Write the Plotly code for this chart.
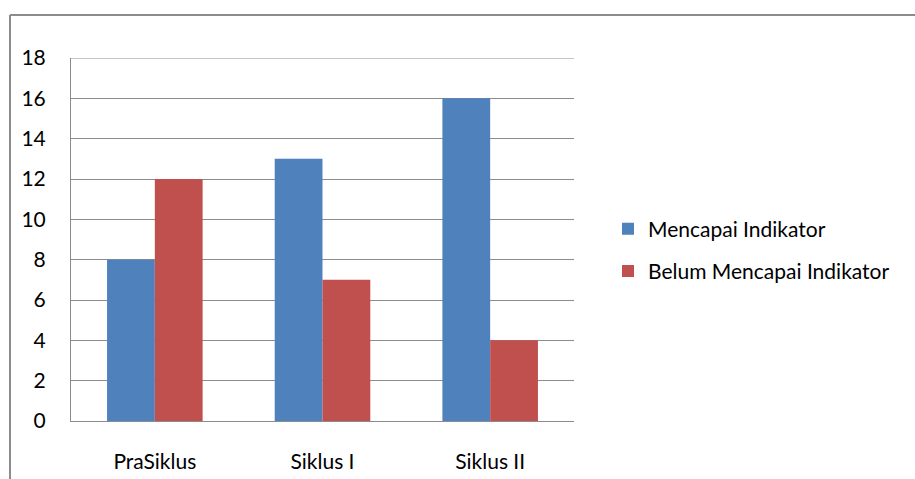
import plotly.graph_objects as go

categories = ["PraSiklus", "Siklus I", "Siklus II"]
mencapai = [8, 13, 16]
belum = [12, 7, 4]
y_ticks = [0, 2, 4, 6, 8, 10, 12, 14, 16, 18]

FONT = "Lato, 'Open Sans', sans-serif"
GRID = "#8c8c8c"

fig = go.Figure()
fig.add_trace(go.Bar(name="Mencapai Indikator", x=categories, y=mencapai,
                     marker=dict(color="#4F81BD", line=dict(width=0)),
                     legendgroup="a"))
fig.add_trace(go.Bar(name="Belum Mencapai Indikator", x=categories, y=belum,
                     marker=dict(color="#C0504D", line=dict(width=0)),
                     legendgroup="b"))

fig.update_layout(
    width=915, height=479,
    margin=dict(l=71, r=341, t=58, b=58),
    paper_bgcolor="white", plot_bgcolor="white",
    barmode="group", bargap=0.43, bargroupgap=0,
    font=dict(family=FONT, size=21, color="#000000"),
    showlegend=True,
    legend=dict(x=(608 - 71) / 503, y=(421 - 250) / 363,
                xanchor="left", yanchor="middle",
                font=dict(family=FONT, size=21, color="#000000"),
                traceorder="grouped", tracegroupgap=12,
                itemwidth=30, bgcolor="rgba(0,0,0,0)"),
    xaxis=dict(showline=True, linecolor=GRID, linewidth=1, automargin=False,
               showgrid=False, ticks="outside", ticklen=22,
               tickcolor="rgba(0,0,0,0)", tickfont=dict(size=21)),
    yaxis=dict(range=[0, 18], tickvals=y_ticks, showline=True, automargin=False,
               linecolor=GRID, linewidth=1, gridcolor=GRID,
               gridwidth=1, zeroline=False, ticks="outside", ticklen=20,
               tickcolor="rgba(0,0,0,0)", tickfont=dict(size=21)),
)

# top gridline at the maximum of the value axis
fig.add_shape(type="line", xref="paper", yref="y", x0=0, x1=1, y0=18, y1=18,
              line=dict(color=GRID, width=1))

# outer frame of the chart area (top and left edges)
fig.add_shape(type="line", xref="paper", yref="paper",
              x0=(10 - 71) / 503, x1=(915 - 71) / 503,
              y0=(421 - 15) / 363, y1=(421 - 15) / 363,
              line=dict(color=GRID, width=2))
fig.add_shape(type="line", xref="paper", yref="paper",
              x0=(10 - 71) / 503, x1=(10 - 71) / 503,
              y0=(421 - 15) / 363, y1=(421 - 479) / 363,
              line=dict(color=GRID, width=2))

fig.write_html("out.html")
